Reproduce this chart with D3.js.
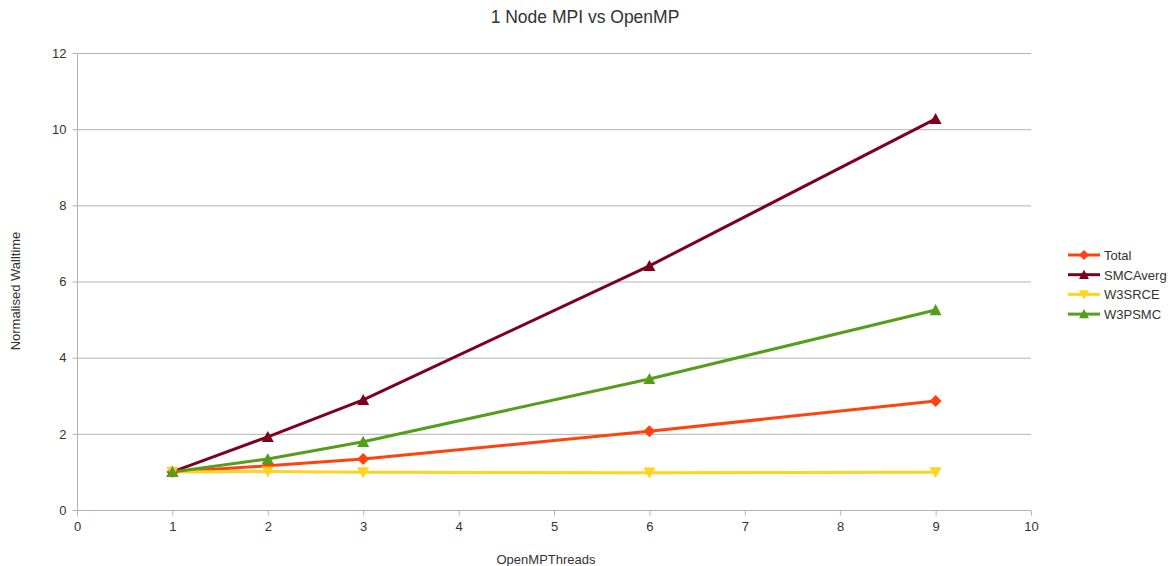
<!DOCTYPE html>
<html>
<head>
<meta charset="utf-8">
<script src="https://cdn.jsdelivr.net/npm/d3@7"></script>
<style>
  html, body { margin: 0; padding: 0; background: #fff; }
  svg { display: block; font-family: "Liberation Sans", Arial, sans-serif; }
</style>
</head>
<body>
<svg id="chart" width="1171" height="566"></svg>
<script>
// Thread counts along the x axis
const threads = [1, 2, 3, 6, 9];

// Normalised walltime per series
const total    = [1.00, 1.16, 1.34, 2.07, 2.86];
const smcAverg = [1.00, 1.92, 2.89, 6.41, 10.27];
const w3srce   = [1.00, 1.01, 0.99, 0.98, 0.99];
const w3psmc   = [1.00, 1.34, 1.79, 3.44, 5.25];

const seriesNames   = ["Total", "SMCAverg", "W3SRCE", "W3PSMC"];
const seriesValues  = [total, smcAverg, w3srce, w3psmc];
const seriesColors  = ["#ff420e", "#7e0021", "#ffd320", "#579d1c"];
const seriesSymbols = ["diamond", "up", "down", "up"];

const xTicks = [0, 1, 2, 3, 4, 5, 6, 7, 8, 9, 10];
const yTicks = [0, 2, 4, 6, 8, 10, 12];

const svg = d3.select("#chart");
const margin = { left: 77, right: 1031, top: 53, bottom: 510 };

const x = d3.scaleLinear().domain([0, 10]).range([margin.left, margin.right]);
const y = d3.scaleLinear().domain([0, 12]).range([margin.bottom, margin.top]);

// Horizontal gridlines
svg.append("g").selectAll("line").data(yTicks).join("line")
  .attr("x1", margin.left).attr("x2", margin.right)
  .attr("y1", d => y(d) + 0.5).attr("y2", d => y(d) + 0.5)
  .attr("stroke", "#b3b3b3").attr("stroke-width", 1);

// Y axis
const yAxis = svg.append("g").attr("transform", `translate(${margin.left + 0.5},0)`)
  .call(d3.axisLeft(y).tickValues(yTicks).tickSize(5).tickPadding(6).tickFormat(d3.format("d")));
yAxis.select(".domain").attr("stroke", "#b3b3b3").attr("d", `M0,${margin.top}V${margin.bottom}`);
yAxis.selectAll(".tick line").attr("stroke", "#b3b3b3");
yAxis.selectAll(".tick text").attr("fill", "#333").style("font-size", "13px")
  .style("font-family", "'Liberation Sans', Arial, sans-serif");

// X axis
const xAxis = svg.append("g").attr("transform", `translate(0,${margin.bottom + 0.5})`)
  .call(d3.axisBottom(x).tickValues(xTicks).tickSize(5).tickPadding(6).tickFormat(d3.format("d")));
xAxis.select(".domain").attr("stroke", "#b3b3b3").attr("d", `M${margin.left},0H${margin.right}`);
xAxis.selectAll(".tick line").attr("stroke", "#b3b3b3");
xAxis.selectAll(".tick text").attr("fill", "#333").style("font-size", "13px")
  .style("font-family", "'Liberation Sans', Arial, sans-serif");

// Marker shapes
function markerPath(kind, s) {
  if (kind === "diamond") return `M0,${-s}L${s},0L0,${s}L${-s},0Z`;
  if (kind === "up") return `M0,${-s}L${s},${s * 0.85}L${-s},${s * 0.85}Z`;
  return `M0,${s}L${s},${-s * 0.85}L${-s},${-s * 0.85}Z`;
}

const line = d3.line().x((d, i) => x(threads[i])).y(d => y(d));

// Series lines then markers
seriesValues.forEach((vals, k) => {
  svg.append("path").datum(vals)
    .attr("d", line)
    .attr("fill", "none")
    .attr("stroke", seriesColors[k])
    .attr("stroke-width", 3)
    .attr("stroke-linejoin", "round");
});
seriesValues.forEach((vals, k) => {
  svg.append("g").selectAll("path").data(vals).join("path")
    .attr("transform", (d, i) => `translate(${x(threads[i])},${y(d)})`)
    .attr("d", markerPath(seriesSymbols[k], 6))
    .attr("fill", seriesColors[k]);
});

// Title and axis labels
svg.append("text").attr("x", 585).attr("y", 23).attr("text-anchor", "middle")
  .style("font-size", "17.5px").attr("fill", "#333").text("1 Node MPI vs OpenMP");
svg.append("text").attr("x", 546).attr("y", 564).attr("text-anchor", "middle")
  .style("font-size", "13px").attr("fill", "#333").text("OpenMPThreads");
svg.append("text").attr("transform", "translate(20,291) rotate(-90)").attr("text-anchor", "middle")
  .style("font-size", "13px").attr("fill", "#333").text("Normalised Walltime");

// Legend
const legend = svg.append("g").attr("transform", "translate(1068,255)");
seriesNames.forEach((name, k) => {
  const g = legend.append("g").attr("transform", `translate(0,${k * 19.7})`);
  g.append("line").attr("x1", 0).attr("x2", 32).attr("y1", 0).attr("y2", 0)
    .attr("stroke", seriesColors[k]).attr("stroke-width", 3);
  g.append("path").attr("transform", "translate(16,0)")
    .attr("d", markerPath(seriesSymbols[k], 5)).attr("fill", seriesColors[k]);
  g.append("text").attr("x", 36).attr("y", 5).style("font-size", "13px")
    .attr("fill", "#333").text(name);
});
</script>
</body>
</html>
